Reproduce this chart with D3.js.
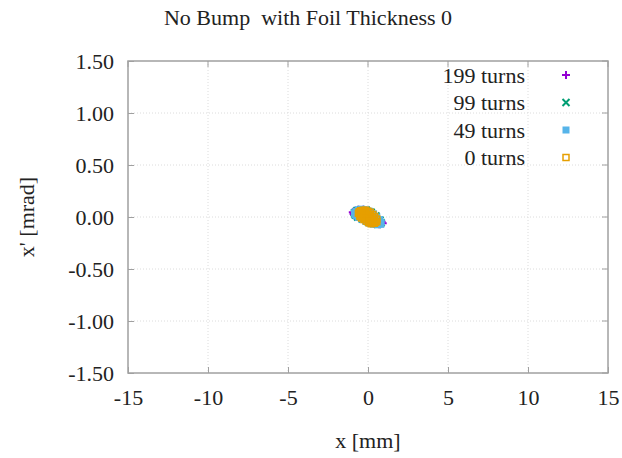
<!DOCTYPE html>
<html>
<head>
<meta charset="utf-8">
<script src="https://cdn.jsdelivr.net/npm/d3@7"></script>
<style>
  body { margin: 0; background: #fff; }
  text { font-family: "Liberation Serif", serif; fill: #222; }
</style>
</head>
<body>
<div id="chart"></div>
<script>
var xTicks = [-15, -10, -5, 0, 5, 10, 15];
var yTicks = [-1.5, -1.0, -0.5, 0.0, 0.5, 1.0, 1.5];
var seriesNames = ["199 turns", "99 turns", "49 turns", "0 turns"];

// phase space points, [x mm, x' mrad]
var turns199 = [[-0.95,0.045],[-0.9,0.03],[-0.8,0.06],[-0.6,0.07],[-0.3,0.07],[0.0,0.055],
  [0.3,0.03],[0.6,-0.01],[0.85,-0.045],[0.92,-0.06],[0.7,-0.07],[0.4,-0.065],[0.1,-0.05],
  [-0.3,-0.02],[-0.6,0.0],[-0.85,0.02]];
var turns99 = [[-0.85,0.04],[-0.7,0.06],[-0.45,0.07],[-0.1,0.065],[0.2,0.045],[0.5,0.01],
  [0.75,-0.03],[0.82,-0.055],[0.6,-0.07],[0.3,-0.06],[0.0,-0.045],[-0.35,-0.02],
  [-0.65,0.0],[-0.8,0.02]];
var turns49 = [[-0.85,0.04],[-0.8,0.02],[-0.75,0.055],[-0.6,0.07],[-0.4,0.075],[-0.15,0.07],
  [0.1,0.055],[0.35,0.03],[0.55,0.0],[0.72,-0.025],[0.82,-0.05],[0.8,-0.07],[0.6,-0.075],
  [0.35,-0.07],[0.1,-0.06],[-0.15,-0.04],[-0.4,-0.02],[-0.6,-0.005],[-0.7,0.01],
  [-0.5,0.04],[-0.2,0.03],[0.1,0.0],[0.4,-0.03],[0.6,-0.05],[-0.3,0.06],[0.25,-0.05]];
var turns0 = [[-0.6,0.035],[-0.55,0.05],[-0.5,0.02],[-0.45,0.06],[-0.3,0.065],[-0.15,0.065],
  [0.0,0.055],[0.15,0.045],[0.3,0.025],[0.42,0.005],[0.55,-0.02],[0.55,-0.045],[0.4,-0.06],
  [0.2,-0.065],[0.05,-0.055],[-0.1,-0.04],[-0.25,-0.025],[-0.4,-0.01],[-0.5,0.005],
  [-0.35,0.04],[-0.15,0.035],[0.0,0.015],[0.15,-0.005],[0.3,-0.025],[0.1,0.025],
  [-0.1,0.005],[0.2,-0.04],[-0.3,0.015],[0.4,-0.035],[-0.05,0.045],[0.05,-0.025],
  [-0.2,0.05],[0.25,0.0],[-0.4,0.03],[0.45,-0.05],[-0.2,-0.01],[0.1,-0.045]];

var W = 622, H = 458;
var pLeft = 128, pRight = 608, pTop = 61, pBottom = 373;
var fs = "22px";

var svg = d3.select("#chart").append("svg")
  .attr("width", W).attr("height", H);

var x = d3.scaleLinear().domain([-15, 15]).range([pLeft, pRight]);
var y = d3.scaleLinear().domain([-1.5, 1.5]).range([pBottom, pTop]);

// grid
svg.append("g").selectAll("line").data(xTicks.slice(1, -1)).enter().append("line")
  .attr("x1", d => x(d)).attr("x2", d => x(d))
  .attr("y1", pTop).attr("y2", pBottom)
  .attr("stroke", "#dcdcdc").attr("stroke-dasharray", "1,2");
svg.append("g").selectAll("line").data(yTicks.slice(1, -1)).enter().append("line")
  .attr("x1", pLeft).attr("x2", pRight)
  .attr("y1", d => y(d)).attr("y2", d => y(d))
  .attr("stroke", "#dcdcdc").attr("stroke-dasharray", "1,2");

// axes
var xAxis = d3.axisBottom(x).tickValues(xTicks).tickSize(-6).tickPadding(24)
  .tickFormat(d => String(d));
var yAxis = d3.axisLeft(y).tickValues(yTicks).tickSize(-6).tickPadding(14)
  .tickFormat(d => d.toFixed(2));

var gx = svg.append("g").attr("transform", "translate(0," + pBottom + ")").call(xAxis);
var gy = svg.append("g").attr("transform", "translate(" + pLeft + ",0)").call(yAxis);
[gx, gy].forEach(function(g) {
  g.select(".domain").remove();
  g.selectAll(".tick line").attr("stroke", "#a0a0a0");
  g.selectAll(".tick text").style("font-family", "Liberation Serif, serif")
    .style("font-size", fs).attr("fill", "#222");
});
gx.selectAll(".tick text").attr("dy", "0.35em");
gy.selectAll(".tick text").attr("dy", "0.35em");
// right and top ticks
svg.append("g").selectAll("line").data(yTicks).enter().append("line")
  .attr("x1", pRight).attr("x2", pRight - 6).attr("y1", d => y(d)).attr("y2", d => y(d))
  .attr("stroke", "#a0a0a0");
svg.append("g").selectAll("line").data(xTicks).enter().append("line")
  .attr("x1", d => x(d)).attr("x2", d => x(d)).attr("y1", pTop).attr("y2", pTop + 6)
  .attr("stroke", "#a0a0a0");

svg.append("rect").attr("x", pLeft).attr("y", pTop)
  .attr("width", pRight - pLeft).attr("height", pBottom - pTop)
  .attr("fill", "none").attr("stroke", "#a0a0a0").attr("stroke-width", 1.5);

// markers
function plus(g, cx, cy, c) {
  g.append("path").attr("d", "M" + (cx - 4) + "," + cy + "H" + (cx + 4) + "M" + cx + "," + (cy - 4) + "V" + (cy + 4))
    .attr("stroke", c).attr("stroke-width", 2).attr("fill", "none");
}
function cross(g, cx, cy, c) {
  g.append("path").attr("d", "M" + (cx - 3.5) + "," + (cy - 3.5) + "L" + (cx + 3.5) + "," + (cy + 3.5) +
    "M" + (cx - 3.5) + "," + (cy + 3.5) + "L" + (cx + 3.5) + "," + (cy - 3.5))
    .attr("stroke", c).attr("stroke-width", 2).attr("fill", "none");
}
function fsquare(g, cx, cy, c) {
  g.append("rect").attr("x", cx - 3.5).attr("y", cy - 3.5).attr("width", 7).attr("height", 7)
    .attr("fill", c);
}
function osquare(g, cx, cy, c) {
  g.append("rect").attr("x", cx - 3).attr("y", cy - 3).attr("width", 6).attr("height", 6)
    .attr("fill", "none").attr("stroke", c).attr("stroke-width", 1.5);
}

var series = [
  { name: seriesNames[0], data: turns199, color: "#9400d3", mark: plus },
  { name: seriesNames[1], data: turns99, color: "#009e73", mark: cross },
  { name: seriesNames[2], data: turns49, color: "#56b4e9", mark: fsquare },
  { name: seriesNames[3], data: turns0, color: "#e69f00", mark: osquare }
];

series.forEach(function(s, i) {
  var g = svg.append("g");
  s.data.forEach(function(p) { s.mark(g, x(p[0]), y(p[1]), s.color); });
  // legend
  var ly = 75 + i * 27.5;
  svg.append("text").attr("x", 525).attr("y", ly).attr("dy", "0.35em")
    .attr("text-anchor", "end").style("font-size", fs).text(s.name);
  s.mark(svg.append("g"), 566, ly, s.color);
});

// titles
svg.append("text").attr("x", 308).attr("y", 25).attr("text-anchor", "middle")
  .style("font-size", fs).style("white-space", "pre").text("No Bump  with Foil Thickness 0");
svg.append("text").attr("x", 368).attr("y", 448).attr("text-anchor", "middle")
  .style("font-size", fs).text("x [mm]");
svg.append("text").attr("transform", "translate(34,217) rotate(-90)").attr("text-anchor", "middle")
  .style("font-size", fs).text("x' [mrad]");
</script>
</body>
</html>
